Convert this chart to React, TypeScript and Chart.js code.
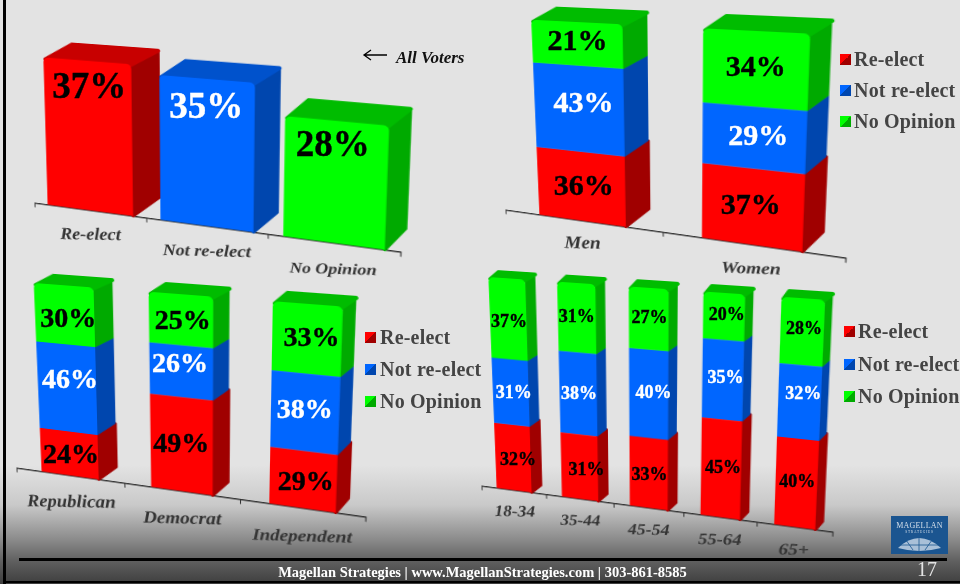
import React, { useEffect, useRef, useState } from "react";
import { Chart, registerables } from "chart.js";

Chart.register(...registerables);

const SERIES_NAMES = ["Re-elect", "Not re-elect", "No Opinion"];

const allVoterCategories = ["Re-elect", "Not re-elect", "No Opinion"];
const allVoterValues = [37, 35, 28];

const genderCategories = ["Men", "Women"];
const genderReelect = [36, 37];
const genderNot = [43, 29];
const genderNoOpinion = [21, 34];

const partyCategories = ["Republican", "Democrat", "Independent"];
const partyReelect = [24, 49, 29];
const partyNot = [46, 26, 38];
const partyNoOpinion = [30, 25, 33];

const ageCategories = ["18-34", "35-44", "45-54", "55-64", "65+"];
const ageReelect = [32, 31, 33, 45, 40];
const ageNot = [31, 38, 40, 35, 32];
const ageNoOpinion = [37, 31, 27, 20, 28];

const FRONT = ["#ff0000", "#0066ff", "#00ff00"];
const SIDE = ["#a00000", "#0046ae", "#00aa00"];
const TOP = ["#c80000", "#0052cc", "#00bc00"];
const INK = ["#000000", "#ffffff", "#000000"];
const SERIF = '"Liberation Serif", serif';

type Pt = [number, number];
interface Panel {
  labels: string[];
  series: number[][];
  colorByBar?: boolean;
  yMax: number;
  quad: Pt[]; // page position of plot corners: BL, BR, TR, TL
  barPct: number;
  depth: { dxL: number; dxR: number; dyB: number; dyT: number };
  labelPx: number;
  tickPx: number[];
  tickPad: number;
  nudge: Pt[];
}

const panels: Panel[] = [
  {
    labels: allVoterCategories,
    series: [allVoterValues],
    colorByBar: true,
    yMax: 40,
    quad: [[35, 203], [401, 252], [408, 72], [30, 44]],
    barPct: 0.765,
    depth: { dxL: 32, dxR: 17, dyB: -25, dyT: -16 },
    labelPx: 37,
    tickPx: [20, 18.5, 16.5],
    tickPad: 18,
    nudge: [[1, -52], [0, -48], [-2, -40]],
  },
  {
    labels: genderCategories,
    series: [genderReelect, genderNot, genderNoOpinion],
    yMax: 100,
    quad: [[506, 210], [846, 258], [857, 36], [496, 18]],
    barPct: 0.55,
    depth: { dxL: 29, dxR: 16, dyB: -24, dyT: -13 },
    labelPx: 30,
    tickPx: [21, 18],
    tickPad: 16,
    nudge: [[3, -2], [-1, -3], [5, -7], [5, -3], [1, -4], [1, -3]],
  },
  {
    labels: partyCategories,
    series: [partyReelect, partyNot, partyNoOpinion],
    yMax: 100,
    quad: [[17, 468], [366, 517], [375, 309], [8, 281]],
    barPct: 0.53,
    depth: { dxL: 22, dxR: 10, dyB: -17, dyT: -9 },
    labelPx: 28,
    tickPx: [20.5, 19.5, 18],
    tickPad: 20,
    nudge: [[2, 0], [0, -2], [3, 1], [3, -9], [-1, -8], [0, -4], [4, 3], [2, 0], [5, -2]],
  },
  {
    labels: ageCategories,
    series: [ageReelect, ageNot, ageNoOpinion],
    yMax: 100,
    quad: [[482, 486], [833, 532], [844, 301], [473, 276]],
    barPct: 0.54,
    depth: { dxL: 11, dxR: 6, dyB: -10, dyT: -6 },
    labelPx: 18,
    tickPx: [19, 18, 18, 18, 18],
    tickPad: 15,
    nudge: [
      [5, 1], [7, 2], [1, 1], [2, -2], [1, -2],
      [3, 0], [1, -1], [5, -2], [3, -3], [4, -9],
      [1, 2], [0, -2], [1, -2], [3, -3], [2, -4],
    ],
  },
];

const legends = [
  { x: 840, text: 854, ys: [59, 90, 121], px: 20 },
  { x: 365, text: 380, ys: [337, 369, 401], px: 20 },
  { x: 844, text: 858, ys: [331, 364, 396], px: 20 },
];

function homography(src: Pt[], dst: Pt[]) {
  const A: number[][] = [];
  for (let i = 0; i < 4; i++) {
    const [x, y] = src[i];
    const [u, v] = dst[i];
    A.push([x, y, 1, 0, 0, 0, -x * u, -y * u, u]);
    A.push([0, 0, 0, x, y, 1, -x * v, -y * v, v]);
  }
  for (let c = 0; c < 8; c++) {
    let p = c;
    for (let r = c + 1; r < 8; r++) if (Math.abs(A[r][c]) > Math.abs(A[p][c])) p = r;
    [A[c], A[p]] = [A[p], A[c]];
    for (let r = 0; r < 8; r++) {
      if (r === c) continue;
      const f = A[r][c] / A[c][c];
      for (let k = c; k < 9; k++) A[r][k] -= f * A[c][k];
    }
  }
  return A.map((row, i) => row[8] / row[i]);
}

function cssMatrix(h: number[]) {
  const [a, b, c, d, e, f, g, i] = h;
  return `matrix3d(${a},${d},0,${g},${b},${e},0,${i},0,0,1,0,${c},${f},0,1)`;
}

function project(h: number[], x: number, y: number): Pt {
  const w = h[6] * x + h[7] * y + 1;
  return [(h[0] * x + h[1] * y + h[2]) / w, (h[3] * x + h[4] * y + h[5]) / w];
}

function poly(ctx: CanvasRenderingContext2D, pts: Pt[], color: string, lw: number) {
  ctx.beginPath();
  pts.forEach((p, i) => (i ? ctx.lineTo(p[0], p[1]) : ctx.moveTo(p[0], p[1])));
  ctx.closePath();
  ctx.fillStyle = color;
  ctx.strokeStyle = color;
  ctx.lineWidth = lw;
  ctx.lineJoin = "round";
  ctx.fill();
  ctx.stroke();
}

function PanelCanvas({ panel, onLabels }: { panel: Panel; onLabels: (l: any[]) => void }) {
  const ref = useRef<HTMLCanvasElement>(null);
  useEffect(() => {
    const canvas = ref.current!;
    const { depth, colorByBar, series } = panel;
    const last = series.length - 1;
    const slope =
      (panel.quad[1][1] - panel.quad[0][1]) / (panel.quad[1][0] - panel.quad[0][0]);
    const bar3d = {
      id: "bar3d",
      beforeDatasetsDraw(chart: any) {
        const ctx = chart.ctx;
        const ca = chart.chartArea;
        const dx = (x: number) => depth.dxL + ((depth.dxR - depth.dxL) * (x - ca.left)) / (ca.right - ca.left);
        const dy = (y: number) => depth.dyT + ((depth.dyB - depth.dyT) * (y - ca.top)) / (ca.bottom - ca.top);
        const back = (x: number, y: number): Pt => [x + dx(x), y + dy(y)];
        ctx.save();
        series.forEach((_, ds) => {
          chart.getDatasetMeta(ds).data.forEach((el: any, i: number) => {
            const c = colorByBar ? i : ds;
            const l = el.x - el.width / 2;
            const r = el.x + el.width / 2;
            poly(ctx, [[r, el.y], [r, el.base], back(r, el.base), back(r, el.y)], SIDE[c], ds === 0 ? 3 : 0.5);
            if (ds === last) {
              const inset = 2;
              poly(
                ctx,
                [[l + inset, el.y + inset], [r - inset, el.y + inset], back(r, el.y), back(l, el.y)],
                TOP[c],
                4
              );
            }
          });
        });
        ctx.restore();
      },
      afterDraw(chart: any) {
        // the category labels stay level on the page although the axis slopes
        const ctx = chart.ctx;
        const scale = chart.scales.x;
        ctx.save();
        ctx.fillStyle = "#333";
        ctx.textAlign = "center";
        ctx.textBaseline = "middle";
        panel.labels.forEach((label, i) => {
          const x = scale.getPixelForTick(i);
          const y = chart.chartArea.bottom + 5 + panel.tickPad + 6;
          ctx.save();
          ctx.translate(x, y);
          ctx.transform(1, -slope, 0, 1, 0, 0);
          ctx.font = `italic bold ${panel.tickPx[i]}px ${SERIF}`;
          ctx.fillText(label, 0, 0);
          ctx.restore();
        });
        ctx.restore();
      },
    };
    const chart = new Chart(canvas, {
      type: "bar",
      data: {
        labels: panel.labels,
        datasets: series.map((values, ds) => ({
          label: colorByBar ? "All Voters" : SERIES_NAMES[ds],
          data: values,
          backgroundColor: colorByBar ? FRONT : FRONT[ds],
          barPercentage: panel.barPct,
          categoryPercentage: 1,
          borderSkipped: false,
          borderRadius: ds === last ? { topLeft: 5, topRight: 5, bottomLeft: 0, bottomRight: 0 } : 0,
        })),
      },
      options: {
        responsive: false,
        animation: false,
        devicePixelRatio: 2,
        layout: { padding: { top: 40, right: 40, left: 10, bottom: 4 } },
        plugins: { legend: { display: false }, tooltip: { enabled: false } },
        scales: {
          x: {
            stacked: true,
            grid: { offset: true, drawOnChartArea: false, drawTicks: true, tickLength: 5, color: "#333" },
            border: { display: true, color: "#333", width: 1.5 },
            ticks: {
              color: "rgba(0,0,0,0)",
              padding: panel.tickPad,
              maxRotation: 0,
              autoSkip: false,
              font: { family: SERIF, size: 17, weight: "bold", style: "italic" },
            },
          },
          y: { stacked: true, display: false, min: 0, max: panel.yMax },
        },
      },
      plugins: [bar3d],
    } as any);
    const ca = chart.chartArea;
    const h = homography(
      [[ca.left, ca.bottom], [ca.right, ca.bottom], [ca.right, ca.top], [ca.left, ca.top]],
      panel.quad
    );
    canvas.style.transform = cssMatrix(h);
    canvas.style.transformOrigin = "0 0";
    const out: any[] = [];
    let n = 0;
    series.forEach((values, ds) => {
      chart.getDatasetMeta(ds).data.forEach((el: any, i: number) => {
        const p = project(h, el.x, (el.y + el.base) / 2);
        const nudge = panel.nudge[n++] || [0, 0];
        out.push({
          text: values[i] + "%",
          x: p[0] + nudge[0],
          y: p[1] + nudge[1],
          color: INK[colorByBar ? i : ds],
          px: panel.labelPx,
        });
      });
    });
    onLabels(out);
    return () => chart.destroy();
  }, []);
  const w = panel.quad[1][0] - panel.quad[0][0] + 50;
  const hgt = Math.max(panel.quad[0][1], panel.quad[1][1]) - Math.min(panel.quad[2][1], panel.quad[3][1]) + 80;
  return <canvas ref={ref} width={w} height={hgt} style={{ position: "absolute", left: 0, top: 0 }} />;
}

export default function App() {
  const [labels, setLabels] = useState<any[][]>([[], [], [], []]);
  return (
    <div
      style={{
        position: "fixed",
        left: 0,
        top: 0,
        width: 960,
        height: 584,
        overflow: "hidden",
        fontFamily: SERIF,
        background: "linear-gradient(180deg,#e3e3e3 0,#e3e3e3 465px,#c9c9c9 505px,#8a8a8a 540px,#5e5e5e 562px,#3e3e3e 584px)",
      }}
    >
      <div style={{ position: "absolute", left: 3, top: 0, width: 3, height: 584, background: "#000" }} />
      <div style={{ position: "absolute", left: 3, top: 581, width: 957, height: 2, background: "#000" }} />
      <div style={{ position: "absolute", left: 19, top: 558, width: 928, height: 3, background: "#000" }} />
      {panels.map((p, i) => (
        <PanelCanvas
          key={i}
          panel={p}
          onLabels={(l) => setLabels((prev) => prev.map((v, k) => (k === i ? l : v)))}
        />
      ))}
      {labels.flat().map((l, i) => (
        <div
          key={i}
          style={{
            position: "absolute",
            left: l.x,
            top: l.y,
            transform: "translate(-50%,-50%)",
            color: l.color,
            fontSize: l.px,
            fontWeight: 700,
            lineHeight: 1,
            whiteSpace: "nowrap",
            WebkitTextStroke: "0.4px " + l.color,
          }}
        >
          {l.text}
        </div>
      ))}
      {legends.map((g, i) =>
        SERIES_NAMES.map((name, k) => (
          <React.Fragment key={i + "-" + k}>
            <div
              style={{
                position: "absolute",
                left: g.x,
                top: g.ys[k] - 5,
                width: 11,
                height: 11,
                background: `linear-gradient(135deg,${FRONT[k]} 50%,${SIDE[k]} 50%)`,
              }}
            />
            <div
              style={{
                position: "absolute",
                left: g.text,
                top: g.ys[k] - 11,
                color: "#444",
                fontSize: g.px,
                fontWeight: 700,
                lineHeight: "22px",
                letterSpacing: 0.2,
                whiteSpace: "nowrap",
              }}
            >
              {name}
            </div>
          </React.Fragment>
        ))
      )}
      <svg style={{ position: "absolute", left: 360, top: 46 }} width={30} height={18}>
        <path d="M4 9H27M11 4L4 9L11 14" stroke="#000" strokeWidth={1.3} fill="none" />
      </svg>
      <div
        style={{
          position: "absolute",
          left: 396,
          top: 48,
          fontSize: 17,
          fontWeight: 700,
          fontStyle: "italic",
          lineHeight: "20px",
          color: "#111",
          whiteSpace: "nowrap",
        }}
      >
        All Voters
      </div>
      <div
        style={{
          position: "absolute",
          left: 0,
          width: 965,
          top: 563,
          textAlign: "center",
          color: "#fff",
          fontSize: 14.5,
          fontWeight: 700,
          lineHeight: "18px",
          whiteSpace: "nowrap",
        }}
      >
        Magellan Strategies | www.MagellanStrategies.com | 303-861-8585
      </div>
      <div style={{ position: "absolute", left: 917, top: 557, color: "#e4e4e4", fontSize: 20, lineHeight: "24px" }}>17</div>
      <div
        style={{
          position: "absolute",
          left: 891,
          top: 516,
          width: 57,
          height: 38,
          background: "#1b5590",
          color: "#d5dfea",
          textAlign: "center",
          overflow: "hidden",
        }}
      >
        <div style={{ fontSize: 8, lineHeight: "9px", marginTop: 5, letterSpacing: 0.2 }}>MAGELLAN</div>
        <div style={{ fontSize: 3.5, lineHeight: "4px", letterSpacing: 0.8 }}>STRATEGIES</div>
        <svg width={57} height={20} style={{ display: "block" }}>
          <path d="M7 14Q28 -6 50 14Q28 20 7 14Z" fill="#a9c0d8" />
          <path d="M15 6L22 16M28 3V17M41 6L34 16M8 11H48" stroke="#1b5590" strokeWidth={0.8} fill="none" />
        </svg>
      </div>
    </div>
  );
}
